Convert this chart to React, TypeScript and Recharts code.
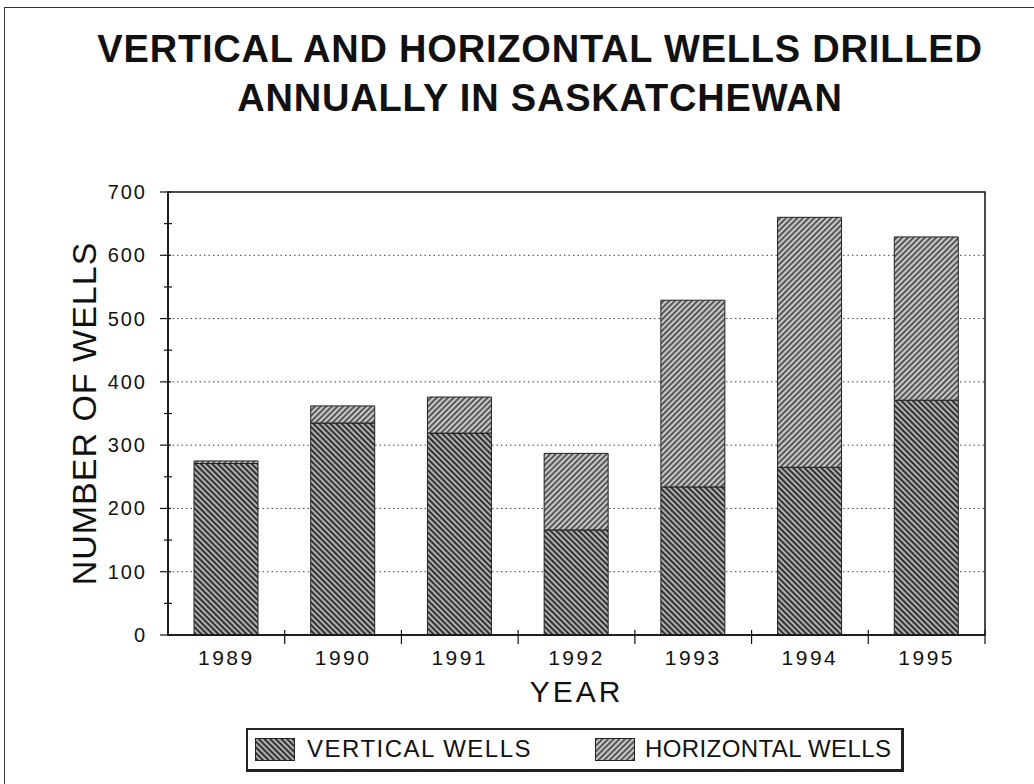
import { BarChart, Bar, XAxis, YAxis, CartesianGrid, ReferenceArea } from 'recharts'

const years = ['1989', '1990', '1991', '1992', '1993', '1994', '1995']
const verticalWells = [271, 335, 319, 166, 234, 265, 371]
const horizontalWells = [4, 27, 57, 121, 295, 395, 258]
const yTicks = [0, 50, 100, 150, 200, 250, 300, 350, 400, 450, 500, 550, 600, 650, 700]
const gridValues = [100, 200, 300, 400, 500, 600]

const data = years.map((year, i) => ({
  year,
  vertical: verticalWells[i],
  horizontal: horizontalWells[i],
}))

const FONT = '"Liberation Sans", Arial, sans-serif'
const X_TICK_MARGIN = 30
const Y_TICK_SIZE = 8
const Y_TICK_MARGIN = 13

// labels only on the hundreds, small crossing marks on every 50
const YTick = ({ x, y, payload }: any) => {
  const axisX = x + Y_TICK_SIZE + Y_TICK_MARGIN
  const major = payload.value % 100 === 0
  return (
    <g>
      <line
        x1={axisX - (major ? 8 : 4)}
        x2={axisX + (major ? 3 : 4)}
        y1={y}
        y2={y}
        stroke="#111"
        strokeWidth={1.2}
      />
      {major && (
        <text x={x} y={y} dy={7} textAnchor="end" fontSize={20} letterSpacing={2} fill="#111" fontFamily={FONT}>
          {payload.value}
        </text>
      )}
    </g>
  )
}

const XTick = ({ x, y, payload }: any) => {
  const axisY = y - X_TICK_MARGIN
  const half = typeof payload.offset === 'number' ? payload.offset : 0
  return (
    <g>
      {half > 0 && (
        <line x1={x + half} x2={x + half} y1={axisY - 5} y2={axisY + 9} stroke="#111" strokeWidth={1.2} />
      )}
      <text x={x} y={y} textAnchor="middle" fontSize={21} letterSpacing={2.5} fill="#111" fontFamily={FONT}>
        {payload.value}
      </text>
    </g>
  )
}

const Patterns = () => (
  <svg width={0} height={0} style={{ position: 'absolute' }}>
    <defs>
      <pattern id="vertHatch" width="4" height="4" patternUnits="userSpaceOnUse" patternTransform="rotate(-45)">
        <rect width="4" height="4" fill="#b0b0b0" />
        <line x1="2" y1="0" x2="2" y2="4" stroke="#333" strokeWidth="2" />
      </pattern>
      <pattern id="horizHatch" width="4" height="4" patternUnits="userSpaceOnUse" patternTransform="rotate(45)">
        <rect width="4" height="4" fill="#c8c8c8" />
        <line x1="2" y1="0" x2="2" y2="4" stroke="#444" strokeWidth="1.7" />
      </pattern>
    </defs>
  </svg>
)

const Swatch = ({ fill }: { fill: string }) => (
  <svg width={40} height={23} style={{ display: 'block' }}>
    <rect x={0.5} y={0.5} width={39} height={22} fill={fill} stroke="#222" />
  </svg>
)

export default function App() {
  return (
    <div style={{ position: 'absolute', left: 0, top: 0, width: 1034, height: 784, overflow: 'hidden', background: '#fff', fontFamily: FONT }}>
      <Patterns />
      <div style={{ position: 'absolute', left: 4, top: 7, width: 1030, height: 777, borderTop: '1.5px solid #333', borderLeft: '1.5px solid #333' }} />
      <div style={{ position: 'absolute', left: 540, top: 28, transform: 'translateX(-50%)', whiteSpace: 'nowrap', fontSize: 38, fontWeight: 'bold', letterSpacing: 0.8, color: '#111', lineHeight: 'normal' }}>
        VERTICAL AND HORIZONTAL WELLS DRILLED
      </div>
      <div style={{ position: 'absolute', left: 540, top: 77, transform: 'translateX(-50%)', whiteSpace: 'nowrap', fontSize: 38, fontWeight: 'bold', letterSpacing: 0.8, color: '#111', lineHeight: 'normal' }}>
        ANNUALLY IN SASKATCHEWAN
      </div>

      <div style={{ position: 'absolute', left: 0, top: 0 }}>
        <BarChart
          width={1034}
          height={784}
          data={data}
          barSize={64}
          margin={{ top: 192, right: 49, bottom: 74, left: 0 }}
        >
          <CartesianGrid
            xAxisId="cat"
            yAxisId="left"
            vertical={false}
            horizontalValues={gridValues}
            stroke="#444"
            strokeDasharray="1.5 3"
          />
          <XAxis
            dataKey="year"
            xAxisId="cat"
            height={75}
            tickSize={0}
            tickMargin={X_TICK_MARGIN}
            tickLine={false}
            tick={<XTick />}
            axisLine={{ stroke: '#111', strokeWidth: 1.5 }}
            label={{ value: 'YEAR', position: 'insideBottom', offset: 8, fontSize: 30, letterSpacing: 3, fill: '#111', fontFamily: FONT }}
          />
          <YAxis
            yAxisId="left"
            width={168}
            domain={[0, 700]}
            ticks={yTicks}
            interval={0}
            tickSize={Y_TICK_SIZE}
            tickMargin={Y_TICK_MARGIN}
            tickLine={false}
            tick={<YTick />}
            axisLine={{ stroke: '#111', strokeWidth: 1.5 }}
            label={{ value: 'NUMBER OF WELLS', angle: -90, position: 'center', fontSize: 34, letterSpacing: 1, fill: '#111', fontFamily: FONT }}
          />
          <ReferenceArea
            xAxisId="cat"
            yAxisId="left"
            x1={years[0]}
            x2={years[years.length - 1]}
            y1={0}
            y2={700}
            fill="none"
            fillOpacity={0}
            stroke="#111"
            strokeWidth={1.5}
          />
          <Bar dataKey="vertical" stackId="w" xAxisId="cat" yAxisId="left" fill="url(#vertHatch)" stroke="#222" strokeWidth={1} isAnimationActive={false} />
          <Bar dataKey="horizontal" stackId="w" xAxisId="cat" yAxisId="left" fill="url(#horizHatch)" stroke="#222" strokeWidth={1} isAnimationActive={false} />
        </BarChart>
      </div>

      <div style={{ position: 'absolute', left: 246, top: 728, width: 653, height: 39, border: '2px solid #222', borderRightWidth: 3, borderBottomWidth: 3, background: '#fff' }}>
        <div style={{ position: 'absolute', left: 7, top: 8 }}>
          <Swatch fill="url(#vertHatch)" />
        </div>
        <div style={{ position: 'absolute', left: 59, top: 5, fontSize: 24, letterSpacing: 1.5, color: '#111', whiteSpace: 'nowrap' }}>
          VERTICAL WELLS
        </div>
        <div style={{ position: 'absolute', left: 347, top: 8 }}>
          <Swatch fill="url(#horizHatch)" />
        </div>
        <div style={{ position: 'absolute', left: 397, top: 5, fontSize: 24, letterSpacing: 0.4, color: '#111', whiteSpace: 'nowrap' }}>
          HORIZONTAL WELLS
        </div>
      </div>
    </div>
  )
}
